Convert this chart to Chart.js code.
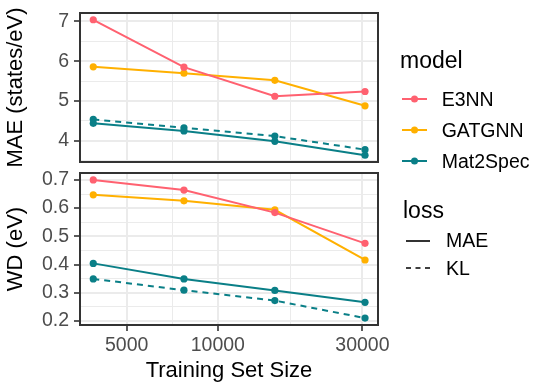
<!DOCTYPE html>
<html>
<head>
<meta charset="utf-8">
<script src="https://cdn.jsdelivr.net/npm/chart.js@4/dist/chart.umd.min.js"></script>
<style>
  body { margin: 0; background: #fff; width: 541px; height: 385px; position: relative; overflow: hidden;
         font-family: 'Liberation Sans', Arial, sans-serif; }
  #topPanel { position: absolute; left: 0; top: 0; }
  #bottomPanel { position: absolute; left: 0; top: 165px; }
  #keys { position: absolute; left: 0; top: 0; }
  .lg { position: absolute; white-space: nowrap; color: #000; }
  .lg-title { font-size: 23px; line-height: 23px; }
  .lg-label { font-size: 19.5px; line-height: 19.5px; }
</style>
</head>
<body>
<canvas id="topPanel" width="541" height="170"></canvas>
<canvas id="bottomPanel" width="541" height="220"></canvas>

<svg id="keys" width="541" height="385">
  <line x1="402" y1="99" x2="427" y2="99" stroke="#FF6170" stroke-width="2"/>
  <circle cx="414.5" cy="99" r="3.5" fill="#FF6170"/>
  <line x1="402" y1="130" x2="427" y2="130" stroke="#FFB000" stroke-width="2"/>
  <circle cx="414.5" cy="130" r="3.5" fill="#FFB000"/>
  <line x1="402" y1="161" x2="427" y2="161" stroke="#0A7F87" stroke-width="2"/>
  <circle cx="414.5" cy="161" r="3.5" fill="#0A7F87"/>
  <line x1="406" y1="241" x2="430" y2="241" stroke="#000" stroke-width="1.6"/>
  <line x1="406" y1="268" x2="430" y2="268" stroke="#000" stroke-width="1.6" stroke-dasharray="5,4.5"/>
</svg>
<div class="lg lg-title" style="left:400px;top:48.8px">model</div>
<div class="lg lg-label" style="left:441.7px;top:89.5px">E3NN</div>
<div class="lg lg-label" style="left:441.7px;top:120.5px">GATGNN</div>
<div class="lg lg-label" style="left:441.7px;top:151.5px">Mat2Spec</div>
<div class="lg lg-title" style="left:403px;top:198.5px">loss</div>
<div class="lg lg-label" style="left:446px;top:231.2px">MAE</div>
<div class="lg lg-label" style="left:446px;top:258.5px">KL</div>

<script>
// training set sizes (log x axis)
const trainSizes = [3880, 7730, 15420, 30600];

// MAE (states/eV)
const maeE3NN = [7.04, 5.85, 5.12, 5.24];
const maeGATGNN = [5.86, 5.70, 5.52, 4.88];
const maeMat2SpecMAE = [4.44, 4.25, 3.99, 3.64];
const maeMat2SpecKL = [4.54, 4.33, 4.12, 3.78];

// WD (eV)
const wdE3NN = [0.700, 0.664, 0.584, 0.475];
const wdGATGNN = [0.647, 0.626, 0.594, 0.416];
const wdMat2SpecMAE = [0.404, 0.349, 0.308, 0.266];
const wdMat2SpecKL = [0.349, 0.309, 0.272, 0.210];

// ticks: major carry labels, minor only grid lines
const xMajor = [5000, 10000, 30000];
const xMinor = [7071, 17321];
const maeMajor = [4, 5, 6, 7];
const maeMinor = [3.5, 4.5, 5.5, 6.5];
const wdMajor = [0.2, 0.3, 0.4, 0.5, 0.6, 0.7];
const wdMinor = [0.25, 0.35, 0.45, 0.55, 0.65];

const colE3NN = '#FF6170';
const colGATGNN = '#FFB000';
const colMat2Spec = '#0A7F87';

const FONT = "'Liberation Sans', Arial, sans-serif";

function isMajor(list, v) {
  return list.some((m) => Math.abs(m - v) < 1e-6 * Math.max(1, Math.abs(m)));
}

function series(label, values, color, dashed) {
  return {
    label,
    data: trainSizes.map((x, i) => ({ x, y: values[i] })),
    borderColor: color,
    backgroundColor: color,
    borderWidth: 2,
    borderDash: dashed ? [6, 5] : [],
    pointRadius: 3.6,
    pointBorderWidth: 0,
    pointBackgroundColor: color,
    tension: 0
  };
}

const panelBorder = {
  id: 'panelBorder',
  afterDatasetsDraw(chart) {
    const { ctx, chartArea: a } = chart;
    ctx.save();
    ctx.strokeStyle = '#333333';
    ctx.lineWidth = 2;
    ctx.strokeRect(a.left, a.top, a.right - a.left, a.bottom - a.top);
    ctx.restore();
  }
};

function makePanel(id, cfg) {
  const showX = cfg.showX;
  return new Chart(document.getElementById(id), {
    type: 'line',
    data: { datasets: cfg.datasets },
    options: {
      responsive: false,
      animation: false,
      layout: { padding: { left: 0, right: 163, top: cfg.padTop, bottom: cfg.padBottom } },
      plugins: { legend: { display: false }, tooltip: { enabled: false } },
      scales: {
        x: {
          type: 'logarithmic',
          min: 3508,
          max: 33770,
          afterBuildTicks: (s) => { s.ticks = xMajor.concat(xMinor).sort((a, b) => a - b).map((v) => ({ value: v })); },
          afterFit: (s) => {
            s.height = showX ? 60 : 0;
            s.paddingLeft = 0;
            s.paddingRight = 0;
          },
          border: { display: false },
          grid: {
            color: '#EBEBEB',
            lineWidth: (c) => (isMajor(xMajor, c.tick.value) ? 2 : 1),
            drawTicks: showX,
            tickLength: showX ? 6 : 0,
            tickWidth: 1.6,
            tickColor: (c) => (isMajor(xMajor, c.tick.value) ? '#333333' : 'rgba(0,0,0,0)')
          },
          ticks: {
            display: showX,
            autoSkip: false,
            maxRotation: 0,
            padding: 3,
            color: '#4D4D4D',
            font: { family: FONT, size: 19.5 },
            callback: (v) => (isMajor(xMajor, v) ? String(v) : '')
          },
          title: {
            display: showX,
            text: 'Training Set Size',
            color: '#000',
            font: { family: FONT, size: 22 },
            padding: { top: 0, bottom: 1 }
          }
        },
        y: {
          min: cfg.yMin,
          max: cfg.yMax,
          afterBuildTicks: (s) => { s.ticks = cfg.major.concat(cfg.minor).sort((a, b) => a - b).map((v) => ({ value: v })); },
          afterFit: (s) => {
            s.width = 80;
            s.paddingTop = 0;
            s.paddingBottom = 0;
          },
          border: { display: false },
          grid: {
            color: '#EBEBEB',
            lineWidth: (c) => (isMajor(cfg.major, c.tick.value) ? 2 : 1),
            tickLength: 6,
            tickWidth: 1.6,
            tickColor: (c) => (isMajor(cfg.major, c.tick.value) ? '#333333' : 'rgba(0,0,0,0)')
          },
          ticks: {
            autoSkip: false,
            padding: 5,
            color: '#4D4D4D',
            font: { family: FONT, size: 19.5 },
            callback: (v) => (isMajor(cfg.major, v) ? cfg.fmt(v) : '')
          },
          title: {
            display: true,
            text: cfg.yTitle,
            color: '#000',
            font: { family: FONT, size: 22 },
            padding: { top: 2.7, bottom: 0 }
          }
        }
      }
    },
    plugins: [panelBorder]
  });
}

makePanel('topPanel', {
  showX: false,
  padTop: 13,
  padBottom: 8,
  yMin: 3.47,
  yMax: 7.21,
  major: maeMajor,
  minor: maeMinor,
  fmt: (v) => String(v),
  yTitle: 'MAE (states/eV)',
  datasets: [
    series('E3NN', maeE3NN, colE3NN, false),
    series('GATGNN', maeGATGNN, colGATGNN, false),
    series('Mat2Spec MAE', maeMat2SpecMAE, colMat2Spec, false),
    series('Mat2Spec KL', maeMat2SpecKL, colMat2Spec, true)
  ]
});

makePanel('bottomPanel', {
  showX: true,
  padTop: 8,
  padBottom: 0,
  yMin: 0.1855,
  yMax: 0.7245,
  major: wdMajor,
  minor: wdMinor,
  fmt: (v) => v.toFixed(1),
  yTitle: 'WD (eV)',
  datasets: [
    series('E3NN', wdE3NN, colE3NN, false),
    series('GATGNN', wdGATGNN, colGATGNN, false),
    series('Mat2Spec MAE', wdMat2SpecMAE, colMat2Spec, false),
    series('Mat2Spec KL', wdMat2SpecKL, colMat2Spec, true)
  ]
});
</script>
</body>
</html>
